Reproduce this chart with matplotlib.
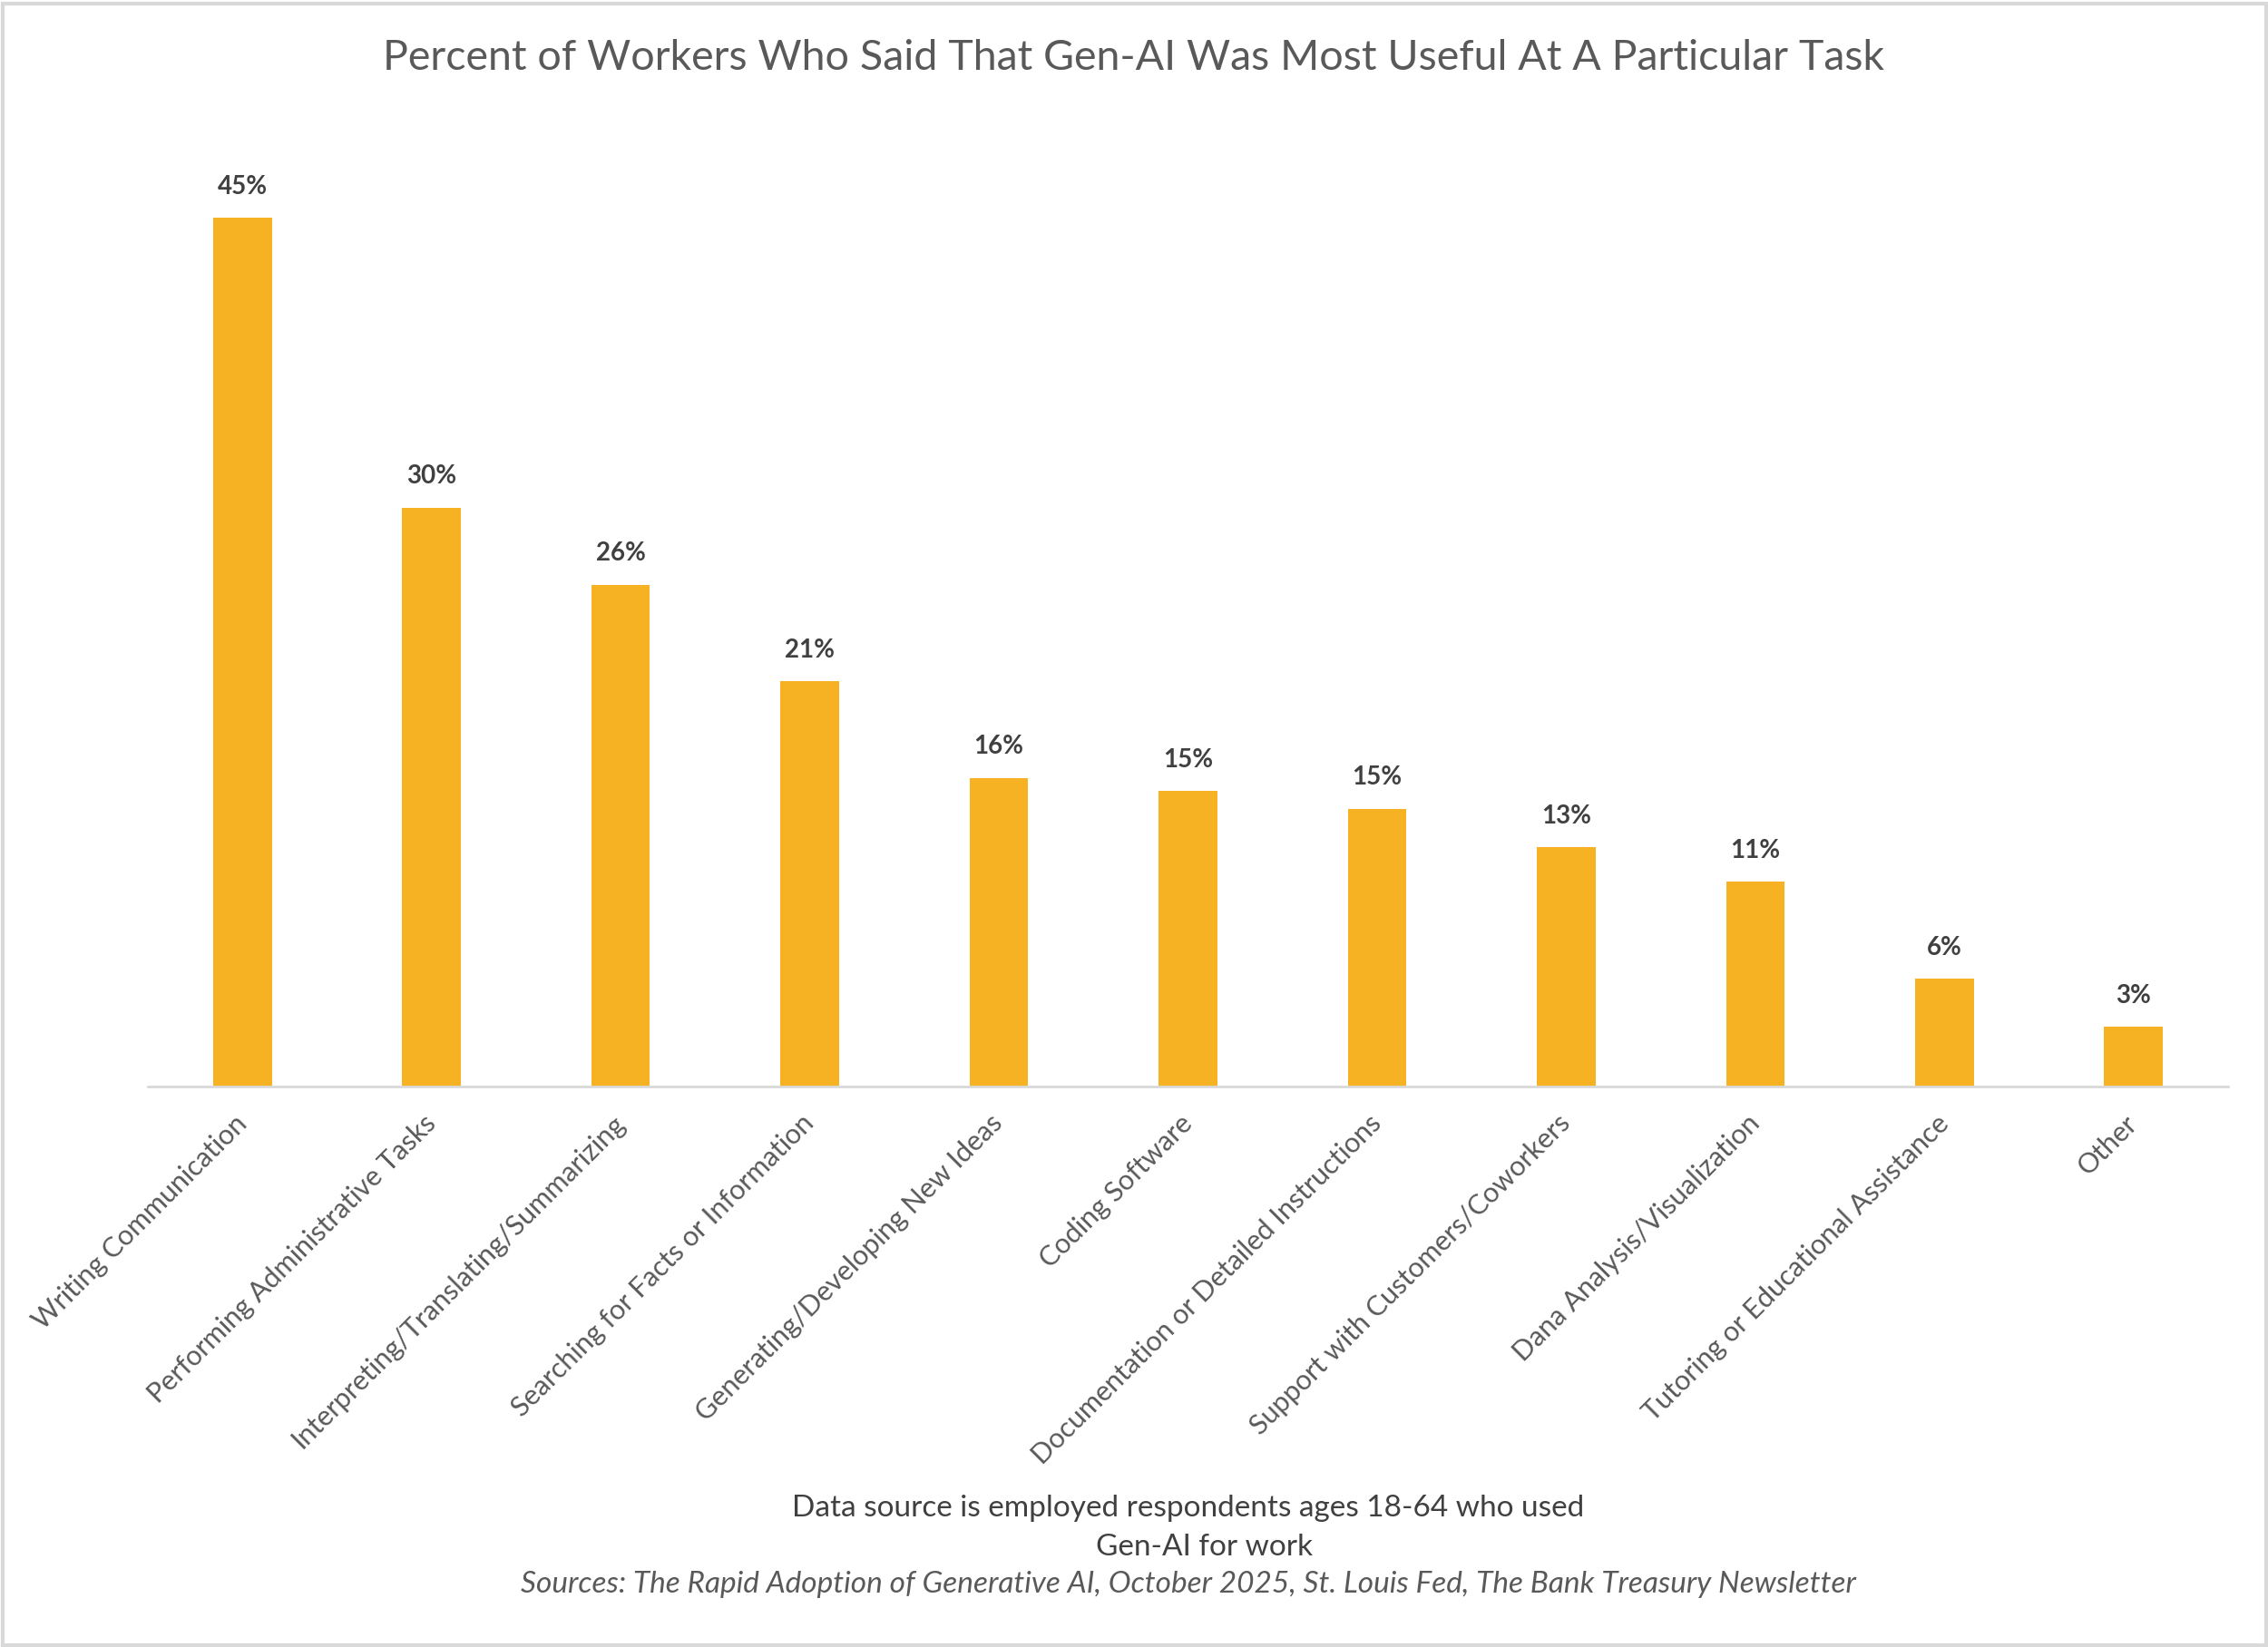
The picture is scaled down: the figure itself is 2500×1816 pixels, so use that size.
import matplotlib
matplotlib.use("Agg")
import matplotlib.pyplot as plt
from matplotlib.patches import Rectangle

tasks = [
    "Writing Communication",
    "Performing Administrative Tasks",
    "Interpreting/Translating/Summarizing",
    "Searching for Facts or Information",
    "Generating/Developing New Ideas",
    "Coding Software",
    "Documentation or Detailed Instructions",
    "Support with Customers/Coworkers",
    "Dana Analysis/Visualization",
    "Tutoring or Educational Assistance",
    "Other",
]
shares = [45, 30, 26, 21, 16, 15.3, 14.4, 12.4, 10.6, 5.6, 3.1]
share_labels = ["45%", "30%", "26%", "21%", "16%", "15%", "15%", "13%", "11%", "6%", "3%"]

title = "Percent of Workers Who Said That Gen-AI Was Most Useful At A Particular Task"
note1 = "Data source is employed respondents ages 18-64 who used"
note2 = "Gen-AI for work"
sources = ("Sources: The Rapid Adoption of Generative AI, October 2025, "
           "St. Louis Fed, The Bank Treasury Newsletter")

plt.rcParams['font.family'] = ['Lato', 'DejaVu Sans']

fig = plt.figure(figsize=(25, 18.16), dpi=100)
ax = fig.add_axes([0.0652, 0.3403, 0.9172, 0.5625])

x = range(len(tasks))
ax.bar(x, shares, width=0.31, color="#F6B223")
for i, v in enumerate(shares):
    ax.text(i, v + 1.0, share_labels[i], ha="center", va="bottom",
            fontsize=20, fontweight="bold", color="#404040")

ax.set_xlim(-0.5, len(tasks) - 0.5)
ax.set_ylim(0, 48)
ax.set_yticks([])
ax.set_xticks(list(x))
ax.set_xticklabels(tasks, rotation=45, ha="right", va="center",
                   rotation_mode="anchor", fontsize=22, color="#595959")
ax.tick_params(axis="x", length=0, pad=26)
for s in ["top", "left", "right"]:
    ax.spines[s].set_visible(False)
ax.spines["bottom"].set_color("#d9d9d9")
ax.spines["bottom"].set_linewidth(2)

fig.text(0.5, 0.965, title, ha="center", va="center", fontsize=33.5, color="#595959")
fig.text(0.524, 0.0843, note1, ha="center", va="center", fontsize=24, color="#404040")
fig.text(0.531, 0.0606, note2, ha="center", va="center", fontsize=24, color="#404040")
fig.text(0.524, 0.038, sources, ha="center", va="center", fontsize=24,
         style="italic", color="#595959")

fig.patches.append(Rectangle((0.001, 0.001), 0.998, 0.997, transform=fig.transFigure,
                             fill=False, edgecolor="#d9d9d9", linewidth=3))

fig.savefig("out.png", dpi=100, facecolor="white")
